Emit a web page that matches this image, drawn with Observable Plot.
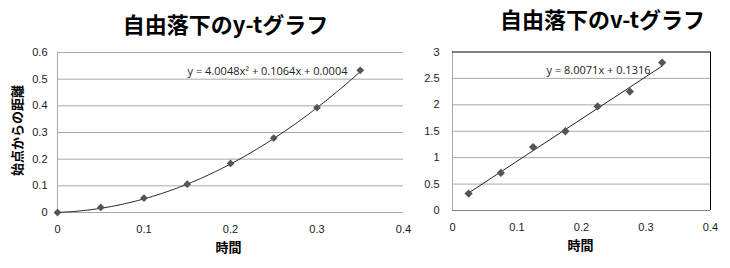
<!DOCTYPE html>
<html><head><meta charset="utf-8">
<script src="https://cdn.jsdelivr.net/npm/d3@7"></script>
<script src="https://cdn.jsdelivr.net/npm/@observablehq/plot@0.6"></script>
<style>
body{margin:0;background:#fff;}
#wrap{display:flex;width:730px;height:268px;overflow:hidden;}
svg{overflow:visible;}
</style></head><body><div id="wrap"></div>
<script>
// y-t data (free fall distance)
const ytTime = [0, 0.05, 0.1, 0.15, 0.2, 0.25, 0.3, 0.35];
const ytDist = [0, 0.019, 0.054, 0.106, 0.184, 0.279, 0.393, 0.533];
const ytCoef = [4.0048, 0.1064, 0.0004];
const ytEquation = "y = 4.0048x² + 0.1064x + 0.0004";
// v-t data (velocity)
const vtTime = [0.025, 0.075, 0.125, 0.175, 0.225, 0.275, 0.325];
const vtVel = [0.32, 0.71, 1.2, 1.5, 1.97, 2.25, 2.8];
const vtCoef = [8.0071, 0.1316];
const vtEquation = "y = 8.0071x + 0.1316";
// ticks & labels
const xTicks = [0, 0.1, 0.2, 0.3, 0.4];
const ytTicks = [0, 0.1, 0.2, 0.3, 0.4, 0.5, 0.6];
const vtTicks = [0, 0.5, 1, 1.5, 2, 2.5, 3];
const ytTitle = "自由落下のy-tグラフ";
const vtTitle = "自由落下のv-tグラフ";
const xLabel = "時間";
const ytYLabel = "始点からの距離";

const ytData = ytTime.map((t, i) => ({t, v: ytDist[i]}));
const vtData = vtTime.map((t, i) => ({t, v: vtVel[i]}));
const ytTrend = d3.range(0, 0.35 + 1e-9, 0.0025).map(t => ({t, v: ytCoef[0]*t*t + ytCoef[1]*t + ytCoef[2]}));
const vtExt = d3.extent(vtTime);
const vtTrend = vtExt.map(t => ({t, v: vtCoef[0]*t + vtCoef[1]}));

const cjk = "'Noto Sans CJK JP', sans-serif";
const eqFont = "'Open Sans', sans-serif";
const grid = "#a8a8a8";
const markerFill = "#555";

const left = Plot.plot({
  width: 415, height: 268,
  marginLeft: 57, marginRight: 12, marginTop: 52, marginBottom: 56,
  x: {domain: [0, 0.4]},
  y: {domain: [0, 0.6]},
  style: {fontFamily: "'Liberation Sans', sans-serif", fontSize: "11px", color: "#1a1a1a", background: "transparent"},
  marks: [
    Plot.ruleY(ytTicks, {stroke: grid}),
    Plot.ruleX([0], {stroke: grid}),
    Plot.line(ytTrend, {x: "t", y: "v", stroke: "#222", strokeWidth: 1}),
    Plot.dot(ytData, {x: "t", y: "v", symbol: "square", rotate: 45, r: 3.1, fill: markerFill}),
    Plot.axisX({ticks: xTicks, tickSize: 0, tickPadding: 13, tickFormat: d => String(d), label: null}),
    Plot.axisY({ticks: ytTicks, tickSize: 0, tickPadding: 10, tickFormat: d => String(d), label: null}),
    Plot.text([ytTitle], {frameAnchor: "top", lineAnchor: "middle", dx: -5, dy: -27, fontSize: 22, fontWeight: "bold", fontFamily: cjk, fill: "#000"}),
    Plot.text([xLabel], {frameAnchor: "bottom", lineAnchor: "middle", dx: -2, dy: 35.5, fontSize: 13, fontWeight: "bold", fontFamily: cjk, fill: "#000"}),
    Plot.text([ytYLabel], {frameAnchor: "left", lineAnchor: "middle", textAnchor: "middle", rotate: -90, dx: -40, dy: -2, fontSize: 13, fontWeight: "bold", fontFamily: cjk, fill: "#000"}),
    Plot.text([ytEquation], {frameAnchor: "top-right", lineAnchor: "middle", textAnchor: "end", dx: -56, dy: 19, fontSize: 11, fontFamily: eqFont, fill: "#222"})
  ]
});

const right = Plot.plot({
  width: 315, height: 268,
  marginLeft: 37, marginRight: 20, marginTop: 51.5, marginBottom: 58,
  x: {domain: [0, 0.4]},
  y: {domain: [0, 3]},
  style: {fontFamily: "'Liberation Sans', sans-serif", fontSize: "11px", color: "#1a1a1a", background: "transparent"},
  marks: [
    Plot.ruleY(vtTicks.slice(1, -1), {stroke: grid}),
    Plot.ruleX([0], {stroke: grid}),
    Plot.ruleY([0], {stroke: "#888"}),
    Plot.ruleY([3], {stroke: "#000"}),
    Plot.ruleX([0.4], {stroke: "#000"}),
    Plot.line(vtTrend, {x: "t", y: "v", stroke: "#222", strokeWidth: 1}),
    Plot.dot(vtData, {x: "t", y: "v", symbol: "square", rotate: 45, r: 3.3, fill: markerFill}),
    Plot.axisX({ticks: xTicks, tickSize: 0, tickPadding: 13, tickFormat: d => String(d), label: null}),
    Plot.axisY({ticks: vtTicks, tickSize: 0, tickPadding: 13, tickFormat: d => String(d), label: null}),
    Plot.text([vtTitle], {frameAnchor: "top", lineAnchor: "middle", dx: 21, dy: -31.5, fontSize: 22, fontWeight: "bold", fontFamily: cjk, fill: "#000"}),
    Plot.text([xLabel], {frameAnchor: "bottom", lineAnchor: "middle", dx: -1, dy: 35, fontSize: 13, fontWeight: "bold", fontFamily: cjk, fill: "#000"}),
    Plot.text([vtEquation], {frameAnchor: "top-right", lineAnchor: "middle", textAnchor: "end", dx: -60, dy: 18, fontSize: 11, fontFamily: eqFont, fill: "#222"})
  ]
});

document.getElementById("wrap").append(left, right);
</script>
</body></html>
